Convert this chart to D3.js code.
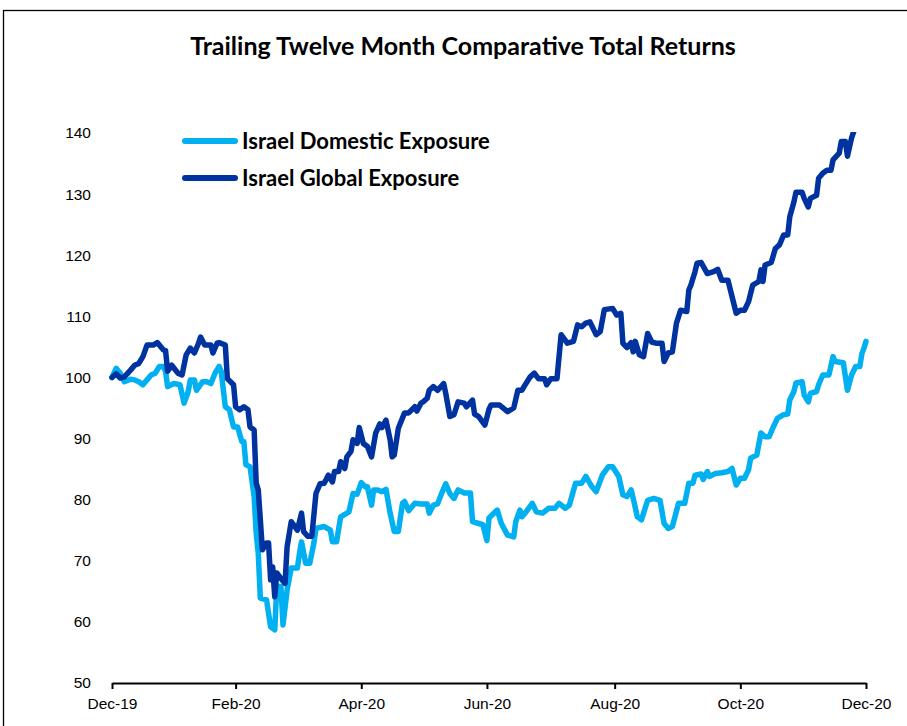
<!DOCTYPE html>
<html lang="en">
<head>
    <meta charset="UTF-8">
    <title>Trailing Twelve Month Comparative Total Returns</title>
    <script src="https://d3js.org/d3.v7.min.js"></script>
    <style>
        body { margin: 0; background: #fff; }
        svg { display: block; font-family: Lato, "Open Sans", sans-serif; }
        .title { font-size: 25px; font-weight: bold; text-anchor: middle; }
        .legend text { font-size: 22px; font-weight: bold; }
        .axis text { font-size: 15.5px; fill: #000; }
        .axis--y path, .axis--y line { display: none; }
        .axis--x path, .axis--x line { stroke: #000; stroke-width: 2; }
    </style>
</head>
<body>
<div id="chart"></div>
<script>
    // days counted from 31 Dec 2019, values indexed to 100
    const START = "2019-12-31";

    const domesticDays = [0, 2, 4, 6, 9, 11, 13, 15, 17, 19, 21, 23, 25, 26, 27, 30, 33, 35, 37, 38, 40, 41, 44, 46, 48, 50, 52, 53, 55, 57, 59, 61, 63, 64, 65, 67, 69, 70, 71, 72, 75, 77, 79, 80, 82, 83, 85, 87, 90, 91, 92, 94, 96, 98, 99, 103, 106, 107, 109, 111, 114, 115, 117, 119, 121, 123, 124, 126, 127, 129, 131, 133, 135, 137, 139, 141, 142, 144, 147, 150, 153, 154, 156, 158, 160, 162, 164, 166, 168, 171, 174, 175, 178, 180, 182, 183, 187, 189, 192, 195, 196, 198, 199, 201, 204, 206, 209, 212, 215, 217, 220, 222, 225, 228, 230, 233, 235, 238, 241, 243, 246, 248, 250, 252, 253, 255, 257, 260, 263, 266, 268, 270, 272, 275, 278, 280, 282, 283, 286, 287, 289, 290, 293, 296, 299, 301, 303, 305, 307, 309, 310, 313, 315, 317, 319, 321, 323, 326, 328, 329, 331, 332, 335, 336, 338, 339, 342, 343, 345, 348, 350, 351, 355, 357, 359, 361, 363, 364, 365, 366];
    const domesticValues = [100.0, 101.5, 100.7, 99.3, 99.7, 99.6, 99.3, 98.8, 99.6, 100.4, 100.7, 101.8, 101.8, 101.0, 98.5, 99.0, 98.8, 95.8, 97.7, 99.6, 99.6, 97.9, 99.3, 99.3, 99.0, 100.7, 101.8, 101.0, 95.2, 94.7, 91.9, 91.9, 89.5, 89.5, 85.7, 85.4, 80.5, 74.5, 71.2, 63.9, 63.6, 59.2, 58.7, 65.8, 65.8, 59.5, 65.2, 68.8, 68.8, 71.2, 73.1, 69.6, 69.6, 72.9, 75.3, 75.6, 75.0, 73.1, 73.1, 77.2, 77.8, 78.0, 81.0, 80.9, 82.8, 82.1, 82.1, 79.1, 81.6, 81.6, 81.3, 81.7, 77.8, 74.8, 74.8, 79.4, 79.7, 78.2, 79.4, 79.3, 79.3, 77.8, 79.1, 79.3, 81.0, 82.6, 81.0, 80.2, 81.6, 81.1, 81.1, 76.4, 76.1, 75.9, 73.3, 77.0, 78.3, 76.1, 74.2, 73.9, 76.4, 78.3, 77.2, 78.0, 79.4, 78.0, 77.8, 78.6, 78.6, 79.4, 78.6, 79.1, 82.7, 82.7, 83.8, 82.1, 81.3, 84.0, 85.4, 85.4, 83.8, 80.8, 80.5, 81.6, 80.2, 77.2, 76.7, 79.9, 80.2, 79.9, 76.1, 75.3, 75.6, 79.4, 79.4, 82.7, 82.7, 84.0, 84.2, 83.3, 84.6, 83.8, 84.3, 84.4, 84.6, 85.1, 82.4, 83.5, 83.5, 84.9, 86.8, 87.3, 90.9, 90.3, 90.3, 91.9, 93.3, 93.9, 94.0, 96.3, 97.7, 99.1, 99.3, 97.1, 96.0, 97.4, 97.7, 98.8, 100.4, 100.4, 103.4, 102.6, 102.4, 97.9, 100.4, 101.8, 101.8, 103.9, 104.8, 105.9];

    const globalDays = [0, 2, 4, 6, 9, 11, 13, 15, 17, 20, 22, 25, 26, 27, 29, 32, 34, 36, 38, 40, 42, 43, 45, 48, 49, 51, 52, 55, 56, 59, 60, 62, 64, 66, 67, 69, 70, 71, 73, 75, 76, 77, 78, 79, 80, 82, 84, 85, 87, 89, 90, 92, 93, 95, 97, 99, 101, 103, 105, 107, 108, 110, 111, 113, 114, 116, 117, 119, 120, 122, 124, 126, 128, 130, 131, 133, 135, 136, 137, 139, 142, 144, 147, 148, 150, 151, 153, 154, 156, 158, 161, 162, 164, 166, 168, 171, 172, 175, 176, 178, 181, 183, 184, 188, 192, 195, 197, 199, 200, 203, 205, 207, 210, 211, 213, 216, 218, 221, 224, 226, 228, 230, 232, 235, 237, 239, 243, 245, 247, 248, 250, 252, 253, 254, 256, 258, 260, 262, 264, 267, 268, 270, 272, 274, 276, 279, 280, 281, 283, 284, 286, 289, 292, 294, 296, 299, 301, 303, 305, 307, 309, 311, 314, 315, 316, 317, 320, 322, 324, 326, 328, 329, 331, 332, 335, 336, 338, 339, 342, 343, 345, 347, 349, 350, 353, 354, 356, 357, 359, 360, 362, 364, 366];
    const globalValues = [100.0, 100.6, 99.9, 100.1, 101.2, 102.0, 102.3, 103.4, 105.3, 105.3, 105.7, 104.5, 104.4, 101.0, 102.0, 100.7, 100.4, 103.7, 104.8, 104.0, 105.6, 106.6, 105.3, 105.3, 104.0, 105.6, 105.7, 105.3, 99.8, 98.8, 95.2, 94.7, 95.2, 94.7, 91.9, 91.4, 82.7, 81.6, 71.8, 72.9, 72.9, 66.9, 69.0, 64.1, 68.0, 67.1, 66.3, 72.3, 76.4, 75.5, 75.0, 77.8, 74.8, 74.0, 74.0, 81.0, 82.6, 82.7, 84.0, 82.9, 84.6, 84.6, 86.2, 85.1, 87.0, 87.9, 89.8, 89.2, 91.8, 89.2, 88.7, 87.0, 90.9, 92.4, 91.8, 93.0, 89.8, 87.0, 87.3, 91.7, 94.2, 94.2, 95.2, 94.5, 95.8, 96.0, 96.6, 97.9, 98.5, 97.9, 99.0, 97.4, 93.6, 93.9, 96.0, 95.8, 95.2, 96.3, 94.0, 93.6, 92.2, 94.8, 95.5, 95.5, 94.4, 95.0, 97.9, 97.9, 98.5, 100.1, 100.7, 99.8, 99.8, 98.8, 99.8, 99.8, 107.0, 105.6, 105.9, 108.6, 108.3, 108.9, 109.1, 107.0, 107.5, 111.1, 111.3, 110.2, 110.5, 105.6, 104.9, 105.7, 104.2, 105.9, 103.7, 103.4, 107.2, 105.8, 105.6, 105.6, 102.6, 104.0, 104.2, 108.9, 111.0, 110.8, 114.3, 115.1, 117.3, 118.7, 118.8, 117.0, 117.3, 117.7, 115.9, 115.9, 113.2, 110.5, 111.0, 111.0, 112.4, 115.1, 115.7, 117.6, 115.7, 118.4, 118.8, 121.1, 121.7, 123.3, 123.3, 126.3, 128.7, 130.3, 130.3, 129.3, 127.9, 129.3, 129.8, 132.6, 133.4, 133.9, 133.9, 135.6, 136.7, 138.6, 138.6, 136.2, 139.2, 140.2, 141.5, 142.6, 144.0];

    const tickDates = ["2019-12-31", "2020-02-29", "2020-04-30", "2020-06-30", "2020-08-31", "2020-10-31", "2020-12-31"];
    const tickLabels = ["Dec-19", "Feb-20", "Apr-20", "Jun-20", "Aug-20", "Oct-20", "Dec-20"];
    const yTicks = [50, 60, 70, 80, 90, 100, 110, 120, 130, 140];

    const seriesNames = ["Israel Domestic Exposure", "Israel Global Exposure"];
    const seriesColors = ["#00b0f0", "#0033a0"];

    const parse = d3.timeParse("%Y-%m-%d");
    const start = parse(START);

    const series = [
        domesticDays.map((d, i) => ({ date: d3.timeDay.offset(start, d), value: domesticValues[i] })),
        globalDays.map((d, i) => ({ date: d3.timeDay.offset(start, d), value: globalValues[i] }))
    ];

    var svg = d3.select("#chart").append("svg")
            .attr("width", 907)
            .attr("height", 726),
        margin = {top: 133, right: 41, bottom: 43, left: 112},
        width = +svg.attr("width") - margin.left - margin.right,
        height = +svg.attr("height") - margin.top - margin.bottom;

    // outer frame
    svg.append("rect")
        .attr("x", 3.5).attr("y", 10.5)
        .attr("width", 920).attr("height", 760)
        .attr("fill", "none")
        .attr("stroke", "#000")
        .attr("stroke-width", 1.3);

    svg.append("text")
        .attr("class", "title")
        .attr("x", 463)
        .attr("y", 55)
        .text("Trailing Twelve Month Comparative Total Returns");

    var x = d3.scaleTime()
        .domain([parse(tickDates[0]), parse(tickDates[tickDates.length - 1])])
        .range([0, width]);
    var y = d3.scaleLinear().domain([50, 140]).range([height, 0]);

    var g = svg.append("g")
        .attr("transform", "translate(" + margin.left + "," + margin.top + ")");

    g.append("clipPath").attr("id", "plot-clip")
        .append("rect")
        .attr("x", -5).attr("y", -1)
        .attr("width", width + 10).attr("height", height + 10);

    g.append("g")
        .attr("class", "axis axis--y")
        .call(d3.axisLeft(y).tickValues(yTicks).tickSize(0).tickPadding(21))
        .call(s => s.select(".domain").remove());

    g.append("g")
        .attr("class", "axis axis--x")
        .attr("transform", "translate(0," + height + ")")
        .call(d3.axisBottom(x)
            .tickValues(tickDates.map(parse))
            .tickFormat((d, i) => tickLabels[i])
            .tickSize(6)
            .tickSizeOuter(0)
            .tickPadding(9));

    var line = d3.line()
        .x(d => x(d.date))
        .y(d => y(d.value));

    g.append("g")
        .attr("clip-path", "url(#plot-clip)")
        .selectAll("path.series")
        .data(series)
        .enter().append("path")
        .attr("class", "series")
        .attr("d", line)
        .attr("fill", "none")
        .attr("stroke", (d, i) => seriesColors[i])
        .attr("stroke-width", 5.5)
        .attr("stroke-linejoin", "round")
        .attr("stroke-linecap", "round");

    // legend
    var legend = svg.append("g")
        .attr("class", "legend")
        .attr("transform", "translate(183,141)");

    var item = legend.selectAll("g")
        .data(seriesNames)
        .enter().append("g")
        .attr("transform", (d, i) => "translate(0," + i * 37 + ")");

    item.append("line")
        .attr("x1", 2).attr("x2", 52)
        .attr("stroke", (d, i) => seriesColors[i])
        .attr("stroke-width", 6)
        .attr("stroke-linecap", "round");

    item.append("text")
        .attr("x", 59)
        .attr("dy", "0.35em")
        .text(d => d);
</script>
</body>
</html>
